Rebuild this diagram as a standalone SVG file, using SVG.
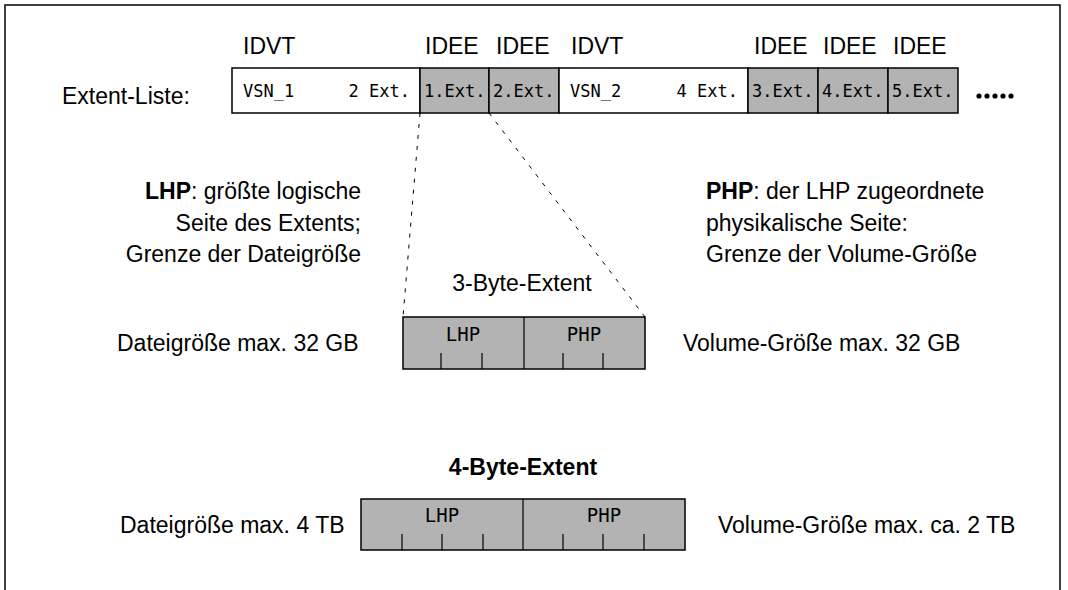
<svg xmlns="http://www.w3.org/2000/svg" width="1068" height="590" viewBox="0 0 1068 590">
<style>
.s{font-family:"Liberation Sans",Arial,sans-serif;font-size:23px;fill:#000}
.m{font-family:"DejaVu Sans Mono","Liberation Mono",monospace;font-size:17px;fill:#000}
.k{font-family:"DejaVu Sans Mono","Liberation Mono",monospace;font-size:19px;fill:#000}
.b{font-weight:bold}
.w{fill:#fff;stroke:#000;stroke-width:1.5}
.g{fill:#b3b3b3;stroke:#000;stroke-width:1.5}
.t{stroke:#000;stroke-width:1.2}
.d{stroke:#000;stroke-width:1;stroke-dasharray:4,7;fill:none}
</style>
<path d="M5 590 V5 H1060 V590" fill="none" stroke="#000" stroke-width="1.5"/>
<g id="extent-liste">
<text class="s" x="62" y="104">Extent-Liste:</text>
<text class="s" x="243" y="54">IDVT</text>
<text class="s" x="425" y="54">IDEE</text>
<text class="s" x="496" y="54">IDEE</text>
<text class="s" x="571" y="54">IDVT</text>
<text class="s" x="754" y="54">IDEE</text>
<text class="s" x="823" y="54">IDEE</text>
<text class="s" x="893" y="54">IDEE</text>
<rect class="w" x="232" y="68" width="188" height="45"/>
<rect class="g" x="420" y="68" width="69" height="45"/>
<rect class="g" x="489" y="68" width="70" height="45"/>
<rect class="w" x="559" y="68" width="189" height="45"/>
<rect class="g" x="748" y="68" width="70" height="45"/>
<rect class="g" x="818" y="68" width="70" height="45"/>
<rect class="g" x="888" y="68" width="70" height="45"/>
<text class="m" x="243" y="97">VSN_1</text>
<text class="m" x="410" y="97" text-anchor="end">2 Ext.</text>
<text class="m" x="424" y="97">1.Ext.</text>
<text class="m" x="493" y="97">2.Ext.</text>
<text class="m" x="570" y="97">VSN_2</text>
<text class="m" x="738" y="97" text-anchor="end">4 Ext.</text>
<text class="m" x="752" y="97">3.Ext.</text>
<text class="m" x="822" y="97">4.Ext.</text>
<text class="m" x="892" y="97">5.Ext.</text>
<g fill="#000"><circle cx="979" cy="96" r="2.6"/><circle cx="987" cy="96" r="2.6"/><circle cx="995" cy="96" r="2.6"/><circle cx="1003" cy="96" r="2.6"/><circle cx="1011" cy="96" r="2.6"/></g>
</g>
<g id="connectors">
<line class="d" x1="420" y1="113" x2="403" y2="317"/>
<line class="d" x1="489" y1="113" x2="645" y2="317"/>
</g>
<g id="lhp-text">
<text class="s" x="361" y="199" text-anchor="end"><tspan class="b">LHP</tspan>: größte logische</text>
<text class="s" x="361" y="231" text-anchor="end">Seite des Extents;</text>
<text class="s" x="361" y="262" text-anchor="end">Grenze der Dateigröße</text>
</g>
<g id="php-text">
<text class="s" x="706" y="199"><tspan class="b">PHP</tspan>: der LHP zugeordnete</text>
<text class="s" x="706" y="231">physikalische Seite:</text>
<text class="s" x="706" y="262">Grenze der Volume-Größe</text>
</g>
<g id="byte3">
<text class="s" x="522" y="291" text-anchor="middle">3-Byte-Extent</text>
<rect class="g" x="403" y="317" width="242" height="52"/>
<line class="t" x1="524" y1="317" x2="524" y2="369"/>
<line class="t" x1="441" y1="353" x2="441" y2="369"/>
<line class="t" x1="482" y1="353" x2="482" y2="369"/>
<line class="t" x1="563" y1="353" x2="563" y2="369"/>
<line class="t" x1="603" y1="353" x2="603" y2="369"/>
<text class="k" x="463" y="341" text-anchor="middle">LHP</text>
<text class="k" x="584" y="341" text-anchor="middle">PHP</text>
<text class="s" x="117" y="351">Dateigröße max. 32 GB</text>
<text class="s" x="683" y="351">Volume-Größe max. 32 GB</text>
</g>
<g id="byte4">
<text class="s b" x="523" y="475" text-anchor="middle">4-Byte-Extent</text>
<rect class="g" x="361" y="499" width="324" height="51"/>
<line class="t" x1="523" y1="499" x2="523" y2="550"/>
<line class="t" x1="402" y1="534" x2="402" y2="550"/>
<line class="t" x1="442" y1="534" x2="442" y2="550"/>
<line class="t" x1="483" y1="534" x2="483" y2="550"/>
<line class="t" x1="563" y1="534" x2="563" y2="550"/>
<line class="t" x1="603" y1="534" x2="603" y2="550"/>
<line class="t" x1="644" y1="534" x2="644" y2="550"/>
<text class="k" x="442" y="522" text-anchor="middle">LHP</text>
<text class="k" x="604" y="522" text-anchor="middle">PHP</text>
<text class="s" x="120" y="533">Dateigröße max. 4 TB</text>
<text class="s" x="718" y="533">Volume-Größe max. ca. 2 TB</text>
</g>
</svg>
